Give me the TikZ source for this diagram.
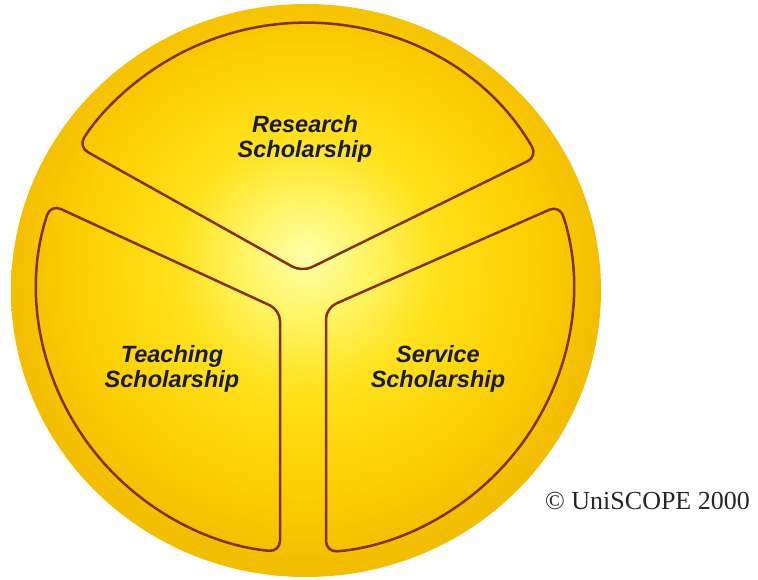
\documentclass[tikz,border=0pt]{standalone}
\usepackage{fontspec}
\setmainfont{Liberation Serif}
\newfontfamily\labelfont{Liberation Sans}
\definecolor{outline}{HTML}{82300A}
\definecolor{labeltext}{HTML}{1A1A48}
\definecolor{goldA}{HTML}{FFFFA8}
\definecolor{goldB}{HTML}{FFF566}
\definecolor{goldC}{HTML}{FFE21C}
\definecolor{goldD}{HTML}{FCD000}
\definecolor{goldE}{HTML}{F3BE00}
\pgfdeclareradialshading{goldball}{\pgfpoint{0bp}{3bp}}{%
  color(0bp)=(goldA); color(5bp)=(goldB); color(11bp)=(goldC);
  color(19bp)=(goldD); color(25bp)=(goldE); color(50bp)=(goldE)}
\tikzset{
  region/.style={draw=outline, line width=2.5pt, rounded corners=11pt},
  sectorlabel/.style={font=\labelfont\bfseries\itshape\fontsize{23.5}{25.5}\selectfont,
    text=labeltext, align=center, inner sep=0pt, anchor=base},
  copyr/.style={font=\fontsize{26}{30}\selectfont, text=black!85, inner sep=0pt, anchor=base west}
}
\begin{document}
\begin{tikzpicture}[x=1pt,y=1pt]
\useasboundingbox (0,0) rectangle (758,580);
% outer disc
\shade[shading=goldball] (306,289.5) ellipse [x radius=295, y radius=286.5];
% inner regions
\begin{scope}[shift={(305,292)}]
  \coordinate (topv) at (-3,16);
  \coordinate (leftc) at (-25,-22);
  \coordinate (rightc) at (21,-20);
  \draw[region] (topv) -- (29.8:268 and 265)
     arc[start angle=29.8, end angle=147.8, x radius=268, y radius=265] -- cycle;
  \draw[region] (leftc) -- (161.6:268 and 265)
     arc[start angle=161.6, end angle=264.65, x radius=268, y radius=265] -- cycle;
  \draw[region] (rightc) -- (18.2:268 and 265)
     arc[start angle=18.2, end angle=-85.5, x radius=268, y radius=265] -- cycle;
\end{scope}
% labels (anchor = baseline of last line)
\node[sectorlabel] (research) at (305,422) {Research\\Scholarship};
\node[sectorlabel] (teaching) at (172,192) {Teaching\\Scholarship};
\node[sectorlabel] (service) at (438,192) {Service\\Scholarship};
\node[copyr] (copyright) at (545,70) {\textcopyright\ UniSCOPE 2000};
\end{tikzpicture}
\end{document}
